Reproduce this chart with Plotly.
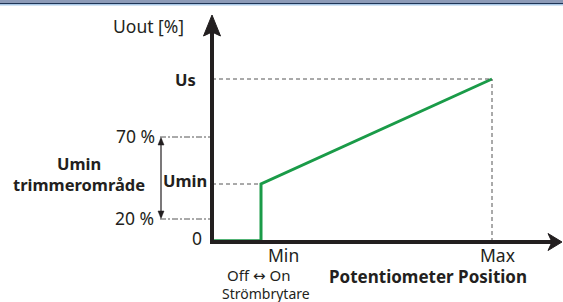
import plotly.graph_objects as go

# Schematic levels (units ~ pixels from origin)
pos_labels = ["Min", "Max"]
pos_values = [49, 280]
y_level_names = ["0", "20 %", "Umin", "70 %", "Us"]
y_level_values = [0, 23, 58, 105, 163]

curve_x = [0, 49, 49, 280]
curve_y = [1.3, 1.3, 58, 163]

W, H = 563, 302
OX, OY = 212, 242  # origin in pixels

fig = go.Figure()
fig.add_trace(go.Scatter(x=curve_x, y=curve_y, mode="lines",
                         line=dict(color="#1a9b48", width=3), hoverinfo="skip"))

shapes = []
gray = "#555555"
# top header bar
shapes.append(dict(type="rect", x0=-OX, x1=W - OX, y0=OY - 3, y1=OY + 1,
                   fillcolor="#8d9bb8", line_width=0))
shapes.append(dict(type="rect", x0=-OX, x1=W - OX, y0=OY - 4, y1=OY - 3,
                   fillcolor="#1f3556", line_width=0))
shapes.append(dict(type="rect", x0=-OX, x1=W - OX, y0=OY - 5.5, y1=OY - 4,
                   fillcolor="#a9c7e6", line_width=0))

umin = y_level_values[2]
us = y_level_values[4]
y20 = y_level_values[1]
y70 = y_level_values[3]
xmin = pos_values[0]
xmax = pos_values[1]

# guide lines
shapes.append(dict(type="line", x0=0, x1=xmin, y0=umin, y1=umin, line=dict(color=gray, width=1, dash="4px,3px")))
shapes.append(dict(type="line", x0=0, x1=xmax, y0=us, y1=us, line=dict(color=gray, width=1, dash="4px,3px")))
shapes.append(dict(type="line", x0=xmax, x1=xmax, y0=0, y1=us, line=dict(color=gray, width=1, dash="4px,3px")))
shapes.append(dict(type="line", x0=-52, x1=0, y0=y20, y1=y20, line=dict(color=gray, width=1, dash="6px,2px,2px,2px")))
shapes.append(dict(type="line", x0=-52, x1=0, y0=y70, y1=y70, line=dict(color=gray, width=1, dash="6px,2px,2px,2px")))

# axes
ax = "#231f20"
shapes.append(dict(type="line", x0=0, x1=0, y0=-2, y1=212, line=dict(color=ax, width=4)))
shapes.append(dict(type="line", x0=-2, x1=342, y0=0, y1=0, line=dict(color=ax, width=4)))
# arrowheads
shapes.append(dict(type="path", path="M 0 227 L -8.5 206 L 0 210 L 8.5 206 Z",
                   fillcolor=ax, line=dict(color=ax, width=1)))
shapes.append(dict(type="path", path="M 350 0 L 336 -8.5 L 340 0 L 336 8.5 Z",
                   fillcolor=ax, line=dict(color=ax, width=1)))
# double arrow for trimming range
shapes.append(dict(type="line", x0=-51, x1=-51, y0=y20 + 2, y1=y70 - 2, line=dict(color=ax, width=1.2)))
shapes.append(dict(type="path", path=f"M -51 {y70 - 0.5} L -54 {y70 - 8} L -48 {y70 - 8} Z",
                   fillcolor=ax, line=dict(color=ax, width=0.5)))
shapes.append(dict(type="path", path=f"M -51 {y20 + 0.5} L -54 {y20 + 8} L -48 {y20 + 8} Z",
                   fillcolor=ax, line=dict(color=ax, width=0.5)))

fig.update_layout(shapes=shapes)

FONT = "Noto Sans"
TXT = "#231f20"
ann = []
def A(x, y, text, size=17.5, bold=False, xanchor="center", yanchor="middle"):
    t = f"<b>{text}</b>" if bold else text
    ann.append(dict(x=x, y=y, text=t, showarrow=False, xanchor=xanchor, yanchor=yanchor,
                    borderpad=0, font=dict(family=FONT, size=size, color=TXT)))

A(-9, 4, y_level_names[0], xanchor="right")
A(-57, 24, y_level_names[1], xanchor="right")
A(-56, 106, y_level_names[3], xanchor="right")
A(-4, 62, y_level_names[2], 16.5, bold=True, xanchor="right")
A(-15, 163, y_level_names[4], 16.5, bold=True, xanchor="right")
A(-27, 216, "Uout [%]", xanchor="right")
A(-200, 68.5, "Umin<br>trimmerområde", 16.5, bold=True, xanchor="left")
A(71, -13, pos_labels[0])
A(285, -13, pos_labels[1])
A(46, -32.5, "Off\u00a0<span style='font-family:DejaVu Sans'>\u2194</span>\u00a0On", 15)
A(216, -34.5, "Potentiometer Position", 17, bold=True)
A(54, -51, "Strömbrytare", 14)
fig.update_layout(annotations=ann)

fig.update_layout(
    width=W, height=H, margin=dict(l=0, r=0, t=0, b=0),
    paper_bgcolor="white", plot_bgcolor="white", showlegend=False,
    xaxis=dict(range=[-OX, W - OX], visible=False, fixedrange=True),
    yaxis=dict(range=[-(H - OY), OY], visible=False, fixedrange=True),
)
fig.write_html("out.html", config={"displayModeBar": False},
               post_script="document.body.style.margin='0';document.body.style.overflow='hidden';")
